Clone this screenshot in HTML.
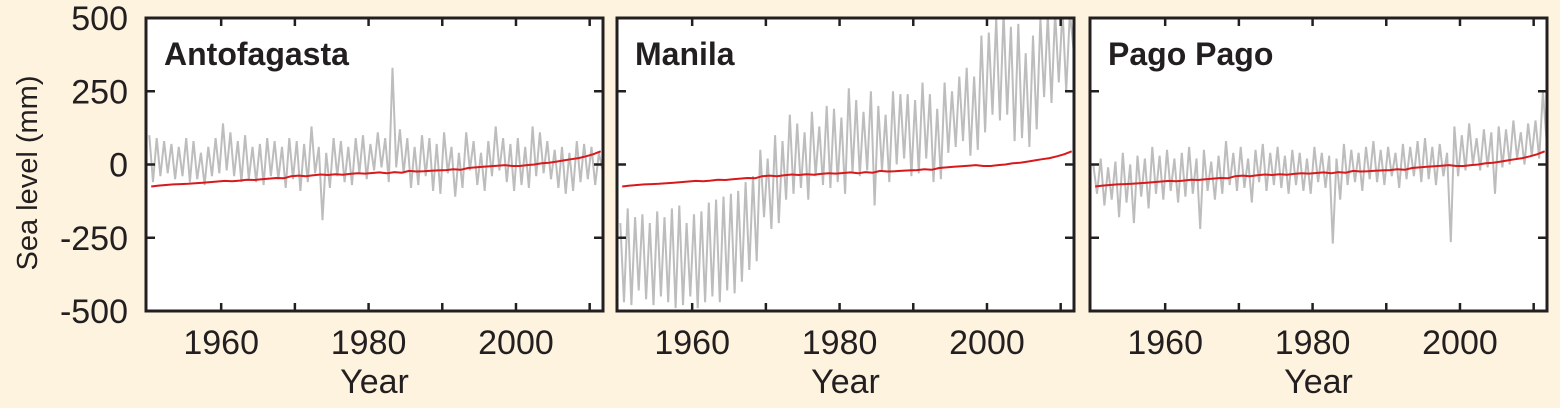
<!DOCTYPE html>
<html><head><meta charset="utf-8"><style>
body{margin:0;background:#fdf3de;}
svg{display:block;font-family:"Liberation Sans",Arial,sans-serif;}
</style></head><body>
<svg id="chart" width="1560" height="408" viewBox="0 0 1560 408" xmlns="http://www.w3.org/2000/svg">
<rect width="1560" height="408" fill="#fdf3de"/>
<text transform="translate(37,173) rotate(-90)" text-anchor="middle" font-size="29" fill="#231f20">Sea level (mm)</text>
<g id="panels"></g>
</svg>
<script>
const yTicks=[500,250,0,-250,-500];
const yTickLabels=["500","250","0","-250","-500"];
const xTicks=[1960,1980,2000];
const xTickLabels=["1960","1980","2000"];
const minorXTicks=[1960,1970,1980,1990,2000,2010];
const panelNames=["Antofagasta","Manila","Pago Pago"];
// gray series: two values per year (1950..2011), sampled at year+0.25 and year+0.75
const antofagasta=[100,-60, 90,-40, 80,-30, 70,-50, 60,-40, 90,-60, 80,-50, 40,-70, 60,-40, 90,-30,
 140,-20, 110,-40, 80,-60, 100,-50, 60,-60, 70,-70, 90,-40, 80,-50, 60,-80, 90,-50,
 80,-90, 70,-60, 130,-30, 60,-190, 40,-80, 90,-40, 80,-60, 60,-70, 90,-30, 100,-50,
 70,-20, 110,-10, 90,-60, 330,-10, 120,-30, 90,-80, 60,-70, 100,-40, 90,-90, 70,-100,
 110,-30, 60,-110, 40,-80, 110,-20, 80,-70, 40,-90, 80,-40, 130,-20, 90,-60, 70,-90,
 90,-70, 60,-80, 130,-40, 110,-30, 80,-50, 50,-80, 60,-100, 40,-90, 80,-60, 70,-50,
 60,-70, 40,-20];
const manila=[-200,-470, -150,-480, -180,-430, -170,-460, -200,-480, -160,-450, -180,-470, -150,-490, -140,-480, -200,-450,
 -170,-490, -160,-470, -130,-450, -120,-470, -110,-430, -100,-440, -90,-400, -60,-360, -40,-330, 50,-180,
 20,-220, 100,-200, 80,-120, 170,-100, 140,-80, 110,-120, 180,-40, 130,-70, 200,-80, 190,-60,
 160,-100, 260,-30, 220,-40, 180,-20, 250,-140, 200,-20, 170,-60, 250,0, 240,20, 240,-40,
 220,-30, 280,20, 240,-60, 190,-50, 280,40, 250,60, 300,80, 330,30, 300,50, 440,110,
 450,170, 500,150, 520,170, 470,80, 480,90, 380,60, 440,120, 500,230, 510,210, 520,280,
 530,250, 520,390];
const pagoPago=[0,-100, 20,-140, -10,-120, 10,-180, 40,-130, 0,-200, 30,-110, 20,-150, 60,-100, 30,-120,
 50,-90, 20,-130, 40,-110, 60,-100, 20,-220, 50,-90, 10,-120, 30,-100, 80,-70, 40,-90,
 60,-80, 20,-130, 50,-60, 70,-90, 40,-70, 60,-80, 30,-100, 50,-70, 40,-90, 20,-100,
 60,-60, 40,-80, 30,-270, 20,-120, 70,-70, 50,-60, 40,-90, 60,-50, 80,-60, 50,-70,
 60,-40, 40,-80, 70,-50, 60,-40, 80,-60, 90,-50, 60,-70, 70,-40, 40,-265, 130,-40,
 100,-20, 140,0, 90,-20, 120,-10, 110,-100, 130,-10, 120,0, 150,20, 110,0, 140,30,
 150,20, 250,80];
// red global mean: annual values 1950..2011
const globalMean=[-75,-72,-70,-68,-67,-66,-64,-62,-60,-58,-56,-57,-55,-52,-53,-50,-48,-46,-47,-40,
 -38,-40,-37,-34,-36,-33,-35,-32,-30,-31,-29,-27,-30,-26,-28,-22,-24,-23,-21,-20,
 -19,-16,-18,-12,-10,-8,-6,-4,-2,-5,-5,-2,0,4,6,10,14,18,22,28,35,45];
const seriesList=[antofagasta,manila,pagoPago];

const NS="http://www.w3.org/2000/svg";
const panelLefts=[146,617,1090], pw=457, pTop=18, pBot=311;
const yOf=v=>pTop+(500-v)*(pBot-pTop)/1000;
const xOfFn=l=>yr=>l+(yr-1949.8)*7.37;
const root=document.getElementById('panels');
function mk(tag,attrs,parent){const e=document.createElementNS(NS,tag);for(const k in attrs)e.setAttribute(k,attrs[k]);parent.appendChild(e);return e;}

panelNames.forEach((name,i)=>{
  const L=panelLefts[i], xOf=xOfFn(L);
  const g=mk('g',{},root);
  
  
  mk('rect',{x:L,y:pTop,width:pw,height:pBot-pTop,fill:'#fff'},g);
  const cp=mk('clipPath',{id:'clip'+i},g);
  mk('rect',{x:L,y:pTop,width:pw,height:pBot-pTop},cp);
  const cg=mk('g',{'clip-path':'url(#clip'+i+')'},g);
  const s=seriesList[i];
  let d='';
  s.forEach((v,k)=>{const yr=1950+Math.floor(k/2)+(k%2?0.75:0.25);d+=(k?'L':'M')+xOf(yr).toFixed(1)+','+yOf(v).toFixed(1);});
  const gp=mk('path',{d:d,fill:'none',stroke:'#bdbdbd','stroke-width':2},cg);
  
  
  let r='';
  globalMean.forEach((v,k)=>{r+=(k?'L':'M')+xOf(1950+k+0.5).toFixed(1)+','+yOf(v).toFixed(1);});
  const rp=mk('path',{d:r,fill:'none',stroke:'#d7191c','stroke-width':2},cg);
  
  
  minorXTicks.forEach(t=>{const x=xOf(t);mk('line',{x1:x,x2:x,y1:pTop,y2:pTop+8,stroke:'#231f20','stroke-width':2.5},g);mk('line',{x1:x,x2:x,y1:pBot,y2:pBot-8,stroke:'#231f20','stroke-width':2.5},g);});
  yTicks.forEach(v=>{const y=yOf(v);mk('line',{x1:L,x2:L+9,y1:y,y2:y,stroke:'#231f20','stroke-width':2.5},g);mk('line',{x1:L+pw,x2:L+pw-9,y1:y,y2:y,stroke:'#231f20','stroke-width':2.5},g);});
  mk('rect',{x:L,y:pTop,width:pw,height:pBot-pTop,fill:'none',stroke:'#231f20','stroke-width':3},g);
  const tt=mk('text',{x:L+18,y:65,'font-size':32,'font-weight':'bold',fill:'#231f20'},g);
  tt.textContent=name;
  
  
  xTicks.forEach((t,k)=>{const tx=mk('text',{x:xOf(t),y:354,'text-anchor':'middle','font-size':34,fill:'#231f20'},g);tx.textContent=xTickLabels[k];
    
    });
  const xt=mk('text',{x:L+pw/2,y:393,'text-anchor':'middle','font-size':34,fill:'#231f20'},g);
  xt.textContent='Year';
  
  
  if(i===0){yTicks.forEach((v,k)=>{const ty=mk('text',{x:128,y:yOf(v)+12,'text-anchor':'end','font-size':34,fill:'#231f20'},g);ty.textContent=yTickLabels[k];
    
    });}
});
</script>
</body></html>
